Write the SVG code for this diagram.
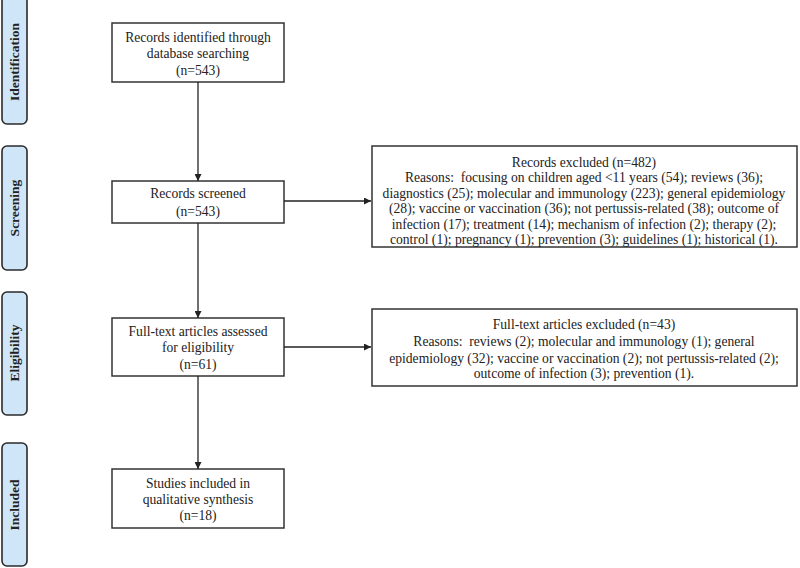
<svg xmlns="http://www.w3.org/2000/svg" width="800" height="568" viewBox="0 0 800 568">
<defs>
<marker id="ah" viewBox="0 0 10 10" refX="10" refY="5" markerWidth="7" markerHeight="7" markerUnits="userSpaceOnUse" orient="auto"><path d="M0,0 L10,5 L0,10 z" fill="#222"/></marker>
</defs>
<style>
.side{fill:#cfe6f8;stroke:#2b2b2b;stroke-width:1.6}
.sidet{font-family:"Liberation Serif",serif;font-weight:bold;font-size:13.5px;fill:#222;text-anchor:middle}
.box{fill:#fff;stroke:#333;stroke-width:1.5}
.t{font-family:"Liberation Serif",serif;font-size:13.6px;fill:#222;text-anchor:middle}
.c{stroke:#222;stroke-width:1.3;fill:none;marker-end:url(#ah)}
</style>
<rect width="800" height="568" fill="#fff"/>
<g id="side-identification"><rect class="side" x="2" y="-4" width="25" height="128" rx="5"/><text class="sidet" transform="translate(19,62) rotate(-90)">Identification</text></g>
<g id="side-screening"><rect class="side" x="2" y="146" width="25" height="124" rx="5"/><text class="sidet" transform="translate(19,208) rotate(-90)">Screening</text></g>
<g id="side-eligibility"><rect class="side" x="2" y="292" width="25" height="123" rx="5"/><text class="sidet" transform="translate(19,353) rotate(-90)">Eligibility</text></g>
<g id="side-included"><rect class="side" x="2" y="443" width="25" height="123" rx="5"/><text class="sidet" transform="translate(19,505) rotate(-90)">Included</text></g>
<g id="identified"><rect class="box" x="112" y="23" width="172" height="59"/>
<text class="t" x="198" y="42">Records identified through</text><text class="t" x="198" y="58">database searching</text><text class="t" x="198" y="75">(n=543)</text></g>
<g id="screened"><rect class="box" x="112" y="181" width="172" height="42"/>
<text class="t" x="198" y="198">Records screened</text><text class="t" x="198" y="216">(n=543)</text></g>
<g id="fulltext"><rect class="box" x="112" y="318" width="172" height="58"/>
<text class="t" x="198" y="336">Full-text articles assessed</text><text class="t" x="198" y="352">for eligibility</text><text class="t" x="198" y="369">(n=61)</text></g>
<g id="included"><rect class="box" x="112" y="469" width="172" height="59"/>
<text class="t" x="198" y="488">Studies included in</text><text class="t" x="198" y="504">qualitative synthesis</text><text class="t" x="198" y="520">(n=18)</text></g>
<g id="excluded1"><rect class="box" x="372" y="146" width="425" height="101"/>
<text class="t" x="584" y="167">Records excluded (n=482)</text>
<text class="t" x="584" y="182" xml:space="preserve">Reasons:  focusing on children aged &lt;11 years (54); reviews (36);</text>
<text class="t" x="584" y="198">diagnostics (25); molecular and immunology (223); general epidemiology</text>
<text class="t" x="584" y="213">(28); vaccine or vaccination (36); not pertussis-related (38); outcome of</text>
<text class="t" x="584" y="229">infection (17); treatment (14); mechanism of infection (2); therapy (2);</text>
<text class="t" x="584" y="244">control (1); pregnancy (1); prevention (3); guidelines (1); historical (1).</text></g>
<g id="excluded2"><rect class="box" x="372" y="309" width="425" height="77"/>
<text class="t" x="584" y="329">Full-text articles excluded (n=43)</text>
<text class="t" x="584" y="346" xml:space="preserve">Reasons:  reviews (2); molecular and immunology (1); general</text>
<text class="t" x="584" y="363">epidemiology (32); vaccine or vaccination (2); not pertussis-related (2);</text>
<text class="t" x="584" y="378">outcome of infection (3); prevention (1).</text></g>
<g id="connectors">
<line class="c" x1="198" y1="82" x2="198" y2="181"/>
<line class="c" x1="198" y1="223" x2="198" y2="318"/>
<line class="c" x1="198" y1="376" x2="198" y2="469"/>
<line class="c" x1="284" y1="201" x2="371" y2="201"/>
<line class="c" x1="284" y1="347" x2="371" y2="347"/>
</g>
</svg>
